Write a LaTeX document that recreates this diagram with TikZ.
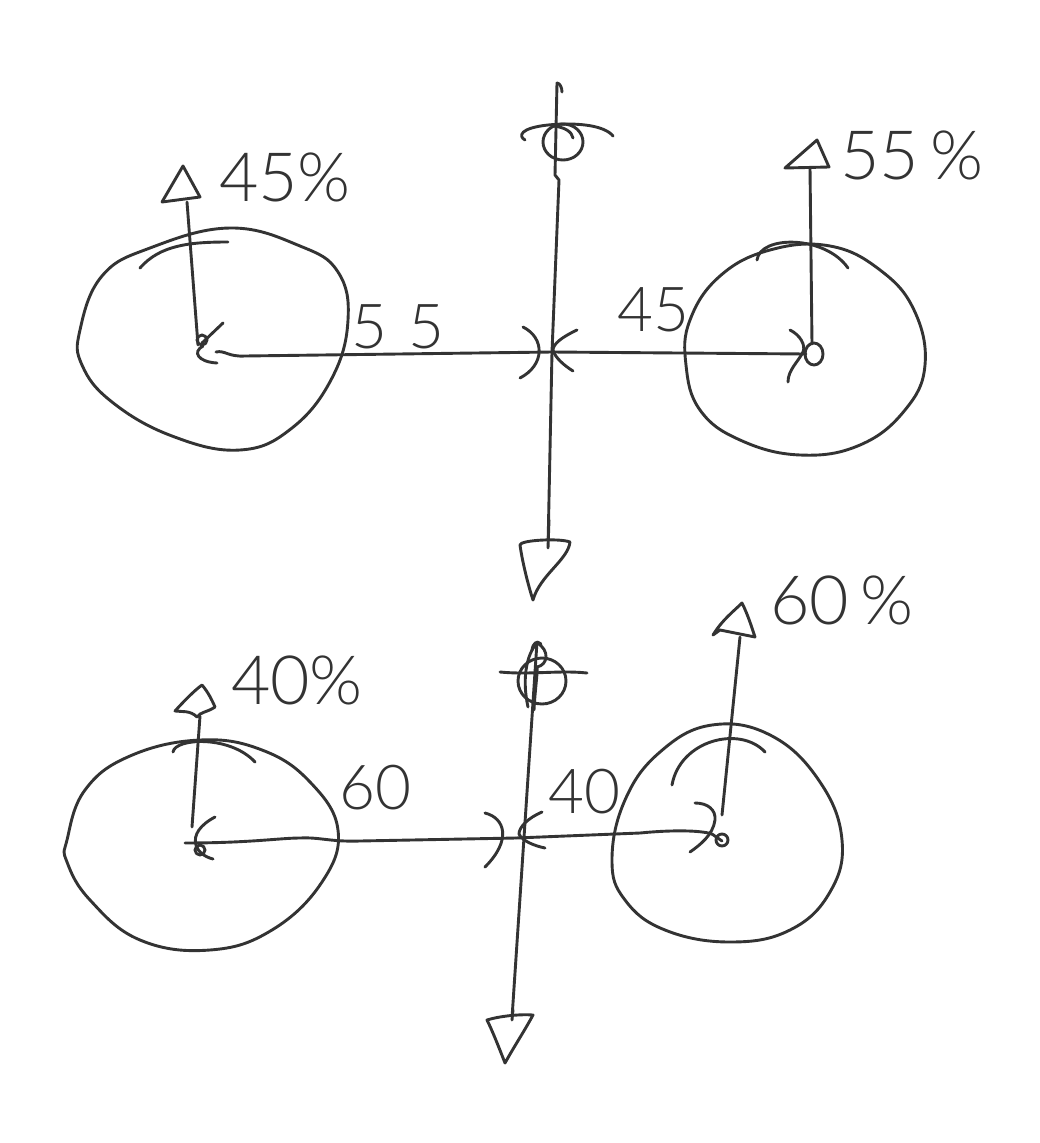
\documentclass[tikz,border=0pt]{standalone}
\usepackage{fontspec}
\newfontfamily\hand{Lato Light}
\definecolor{ink}{HTML}{333333}
\begin{document}
\begin{tikzpicture}[x=1pt,y=-1pt,
  ink/.style={draw=ink, line width=2.9pt, line cap=round, line join=round},
  tri/.style={ink, fill=white},
  lbl/.style={text=ink, inner sep=0pt, font=\hand\fontsize{68}{68}\selectfont},
  sml/.style={text=ink, inner sep=0pt, font=\hand\fontsize{62}{62}\selectfont}]
\useasboundingbox[fill=white] (0,0) rectangle (1039,1143);

% ---------------- TOP ----------------
\coordinate (TLc) at (216,352);
\coordinate (TX)  at (552,352);
\coordinate (TRc) at (806,354);
\coordinate (TLv) at (198,345);
\coordinate (TLa) at (187,202);
\coordinate (TRv) at (812,344);
\coordinate (TRa) at (810,168);
\coordinate (TVt) at (557,83);
\coordinate (TVb) at (548,548);

% left wheel
\draw[ink] plot[smooth cycle, tension=0.7] coordinates {(80,330) (102,276) (150,248) (230,228) (300,246) (338,272) (348,320) (332,378) (292,428) (240,450) (172,436) (112,402) (82,365)};
\draw[ink] (140,268) .. controls (160,245) and (190,242) .. (228,242);
% right wheel
\draw[ink] plot[smooth cycle, tension=0.7] coordinates {(690,320) (720,276) (770,250) (830,246) (880,270) (914,310) (925,365) (905,410) (860,445) (800,455) (740,440) (700,410) (686,365)};
\draw[ink] (757,260) .. controls (760,235) and (825,235) .. (848,268);

% left vertical arrow
\draw[ink] (TLv) -- (TLa);
\draw[tri] (162,202) -- (183,166) -- (200,197) -- cycle;
\draw[ink] (223,323) -- (202,343);
\draw[ink] (202,340) circle[radius=5];
\draw[ink] (203,346) .. controls (192,352) and (198,362) .. (217,363);

% horizontal axle
\draw[ink] (TLc) .. controls (225,350) and (228,357) .. (245,356) -- (TX);
\draw[ink] (TX) -- (TRc);

% right vertical arrow
\draw[ink] (TRv) -- (TRa);
\draw[tri] (785,168) -- (817,140) -- (829,167) -- cycle;
\draw[ink] (814,354) ellipse[x radius=9, y radius=11];
\draw[ink] (790,330) .. controls (800,335) and (806,345) .. (803,352) .. controls (798,362) and (788,370) .. (788,382);

% centre vertical
\draw[ink] (TVt) .. controls (560,83) and (562,88) .. (562,92);
\draw[ink] (TVt) -- (555,175) -- (559,180) -- (TX) -- (TVb);
\draw[ink] (563,142) ellipse[x radius=20, y radius=18];
\draw[ink] (525,140) .. controls (518,136) and (520,128) .. (548,125) .. controls (580,122) and (605,126) .. (613,136);
\draw[ink] (553,126) .. controls (565,127) and (572,132) .. (573,138);
\draw[tri] (520,545) .. controls (520,540) and (560,538) .. (570,542) .. controls (568,560) and (540,575) .. (533,600) .. controls (528,585) and (522,560) .. (520,545) -- cycle;
\draw[ink] (549,520) -- (548,548);
% junction
\draw[ink] (523,327) .. controls (545,338) and (545,365) .. (520,378);
\draw[ink] (577,330) .. controls (562,337) and (553,344) .. (553,350) .. controls (555,358) and (565,366) .. (573,371);

% labels
\node[lbl] (p45) at (285,177) {45\%};
\node[lbl] (p55) at (912,155) {55\,\%};
\node[sml] (n55) at (398,327) {5\,\,5};
\node[sml] (n45) at (653,310) {45};

% ---------------- BOTTOM ----------------
\coordinate (BLc) at (185,843);
\coordinate (BX)  at (516,838);
\coordinate (BRc) at (712,834);
\coordinate (BLv) at (192,827);
\coordinate (BLa) at (200,716);
\coordinate (BRv) at (722,815);
\coordinate (BRa) at (740,637);
\coordinate (BVt) at (537,642);
\coordinate (BVb) at (512,1018);

% left wheel
\draw[ink] plot[smooth cycle, tension=0.7] coordinates {(67,840) (85,790) (130,756) (200,740) (262,750) (310,782) (338,830) (322,882) (272,930) (210,950) (140,940) (90,900) (67,862)};
\draw[ink] (173,752) .. controls (175,738) and (230,735) .. (255,762);
% right wheel
\draw[ink] plot[smooth cycle, tension=0.7] coordinates {(612,860) (625,800) (660,752) (712,725) (772,736) (820,782) (842,840) (830,892) (790,930) (730,942) (665,930) (625,900)};
\draw[ink] (672,785) .. controls (680,740) and (740,725) .. (765,752);

% left vertical arrow
\draw[ink] (BLv) -- (BLa);
\draw[tri] (175,711) .. controls (185,700) and (195,690) .. (202,685) .. controls (208,692) and (212,700) .. (215,707) .. controls (208,712) and (200,712) .. (197,717) .. controls (190,710) and (182,712) .. (175,711) -- cycle;
\draw[ink] (215,817) .. controls (200,825) and (193,835) .. (196,845) .. controls (198,852) and (205,857) .. (213,859);
\draw[ink] (200,850) circle[radius=5];

% horizontal axle
\draw[ink] (BLc) .. controls (250,843) and (280,838) .. (300,838) .. controls (320,837) and (330,842) .. (360,841) -- (BX);
\draw[ink] (BX) -- (640,833) .. controls (670,830) and (700,830) .. (BRc);
\draw[ink] (BRc) -- (722,841);
\draw[ink] (722,840) circle[radius=6];

% right vertical arrow
\draw[ink] (BRv) -- (BRa);
\draw[tri] (713,635) .. controls (722,620) and (735,610) .. (742,603) .. controls (748,615) and (752,628) .. (755,637) -- (720,630) -- cycle;
\draw[ink] (695,803) .. controls (708,803) and (716,810) .. (715,820) .. controls (713,835) and (700,845) .. (690,852);

% centre vertical
\draw[ink] (BVt) -- (BVb);
\draw[ink] (532,650) .. controls (533,643) and (537,640) .. (541,644);
\draw[ink] (542,681) ellipse[x radius=24, y radius=23];
\draw[ink] (500,672) .. controls (530,675) and (560,670) .. (587,673);
\draw[ink] (528,707) .. controls (522,680) and (526,655) .. (537,643) .. controls (550,650) and (548,665) .. (537,667);
\draw[ink] (534,710) .. controls (535,690) and (538,670) .. (537,667);
\draw[tri] (487,1020) .. controls (500,1016) and (520,1014) .. (533,1015) .. controls (525,1030) and (515,1045) .. (505,1063) .. controls (498,1045) and (492,1030) .. (487,1020) -- cycle;
\draw[ink] (513,1010) -- (512,1020);
% junction
\draw[ink] (485,813) .. controls (505,818) and (512,840) .. (485,867);
\draw[ink] (542,812) .. controls (528,818) and (519,827) .. (519,834) .. controls (522,841) and (535,846) .. (545,848);

% labels
\node[lbl] (p40) at (297,680) {40\%};
\node[lbl] (p60) at (842,600) {60\,\%};
\node[sml] (n60) at (375,788) {60};
\node[sml] (n40) at (584,792) {40};
\end{tikzpicture}
\end{document}
